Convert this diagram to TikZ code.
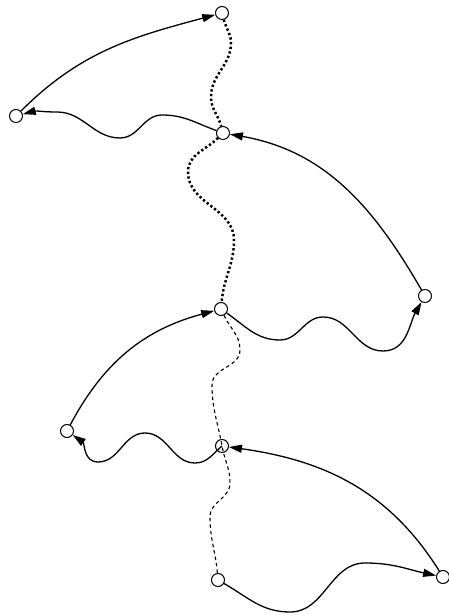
\documentclass[tikz,border=0pt]{standalone}
\usetikzlibrary{arrows.meta}
\begin{document}
\begin{tikzpicture}[x=1pt,y=1pt,
  vtx/.style={draw, circle, line width=1pt, minimum size=13pt, inner sep=0pt},
  link/.style={line width=1.3pt, -{Triangle[length=13pt,width=8pt]}},
  dots/.style={line width=2.5pt, dash pattern=on 2.3pt off 2.4pt},
  dashes/.style={line width=1.1pt, dash pattern=on 3.5pt off 3pt}]
\useasboundingbox (0,0) rectangle (449,615);
\node[vtx] (a) at (222,602) {};
\node[vtx] (b) at (16,499) {};
\node[vtx] (c) at (223,482) {};
\node[vtx] (d) at (425,319) {};
\node[vtx] (e) at (221,306) {};
\node[vtx] (f) at (67,184) {};
\node[vtx] (g) at (222,169) {};
\node[vtx] (h) at (218,35) {};
\node[vtx] (i) at (443,38) {};
\draw[link] (b) to[out=45,in=195] (a);
\draw[link] (c) to[out=160,in=0] (162,500) to[out=180,in=0] (120,477) to[out=180,in=0] (57,503) to[out=180,in=15] (b);
\draw[dots] (a) to[out=-75,in=90] (231,572) to[out=-90,in=90] (211,518) to[out=-90,in=105] (c);
\draw[dots] (c) to[out=225,in=90] (188,443) to[out=-90,in=90] (234,375) to[out=-90,in=85] (e);
\draw[link] (d) to[out=120,in=-10] (c);
\draw[link] (e) to[out=-35,in=180] (280,275) to[out=0,in=180] (323,298) to[out=0,in=180] (383,264) to[out=0,in=-120] (d);
\draw[link] (f) to[out=62,in=195] (e);
\draw[link] (g.center) to[out=220,in=0] (195,152) to[out=180,in=0] (145,182) to[out=180,in=0] (98,153) to[out=180,in=-35] (f);
\draw[dashes] (e) to[out=-65,in=90] (240,265) to[out=-90,in=90] (212,230) to[out=-90,in=100] (g.center) to[out=-80,in=90] (230,132) to[out=-90,in=90] (210,98) to[out=-90,in=95] (h);
\draw[link] (i) to[out=122,in=-8] (g);
\draw[link] (h) to[out=-30,in=180] (290,3) to[out=0,in=180] (365,52) to[out=0,in=168] (i);
\end{tikzpicture}
\end{document}
